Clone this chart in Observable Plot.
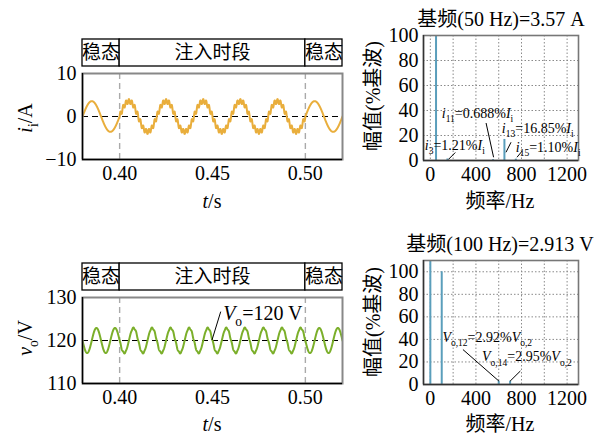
<!DOCTYPE html>
<html><head><meta charset="utf-8">
<script src="https://cdn.jsdelivr.net/npm/d3@7"></script>
<script src="https://cdn.jsdelivr.net/npm/@observablehq/plot@0.6"></script>
<style>
html,body{margin:0;padding:0;background:#fff;}
#root{position:relative;width:609px;height:435px;overflow:hidden;background:#fff;}
#root svg{position:absolute;left:0;top:0;}
</style></head>
<body><div id="root"></div>
<script>
// ---------- data ----------
const tDomain = [0.38, 0.52];
const tTicks = [0.40, 0.45, 0.50];
const segStart = [0.38, 0.40, 0.50];
const segEnd = [0.40, 0.50, 0.52];
const segLabel = ["稳态", "注入时段", "稳态"];
const injBounds = [0.40, 0.50];

// current i_i : fundamental + injected harmonics
const iFundFreq = 50, iFundAmp = 3.57;
const iHarmFreq = [150, 550, 650, 750];
const iHarmPct = [1.21, 0.688, 16.85, 1.10];
const iTicks = [-10, 0, 10];

// voltage v_o : DC + 100 Hz ripple + injected harmonics
const vDC = 120, vFundFreq = 100, vFundAmp = 2.913;
const vHarmFreq = [600, 700];
const vHarmPct = [2.92, 2.95];
const vTicks = [110, 120, 130];

// spectra
const iSpecFreq = [50, 150, 550, 650, 750];
const iSpecPct = [100, 1.21, 0.688, 16.85, 1.10];
const vSpecFreq = [0, 100, 600, 700];
const vSpecPct = [4119, 100, 2.92, 2.95];
const fTicks = [0, 400, 800, 1200];
const fGrid = [0, 200, 400, 600, 800, 1000, 1200];
const pTicks = [0, 20, 40, 60, 80, 100];

// ---------- build series ----------
const tStep = 0.00005;
const nPts = Math.round((tDomain[1] - tDomain[0]) / tStep);
const tArr = d3.range(nPts + 1).map(k => tDomain[0] + k * tStep);
const inj = t => t >= injBounds[0] && t <= injBounds[1];
const iSeries = tArr.map(t => {
  let v = iFundAmp * Math.sin(2 * Math.PI * iFundFreq * t);
  if (inj(t)) iHarmFreq.forEach((f, k) => v += iFundAmp * iHarmPct[k] / 100 * Math.sin(2 * Math.PI * f * t));
  return {t, v};
});
const vSeries = tArr.map(t => {
  let v = vDC - vFundAmp * Math.sin(2 * Math.PI * vFundFreq * t);
  if (inj(t)) vHarmFreq.forEach((f, k) => v += vFundAmp * vHarmPct[k] / 100 * Math.sin(2 * Math.PI * f * t));
  return {t, v};
});
const segs = segStart.map((s, k) => ({s, e: segEnd[k], label: segLabel[k]}));
const iSpec = iSpecFreq.map((f, k) => ({f, p: iSpecPct[k]}));
const vSpec = vSpecFreq.map((f, k) => ({f, p: vSpecPct[k]}));

// ---------- layout ----------
const W = 609, H = 435;
const FS = 20;
const SERIF = "'Liberation Serif', 'Noto Sans CJK SC', serif";
const CJK = "'Noto Sans CJK SC', sans-serif";
const baseStyle = {fontFamily: SERIF, fontSize: FS + "px", background: "transparent", overflow: "visible"};
const root = document.getElementById("root");
const ORANGE = "#E9AE3C", GREEN = "#7BAF2A", BLUE = "#5A9EBB";

function box(l, r, t, b) {
  return {width: W, height: H, marginLeft: l, marginRight: W - r, marginTop: t, marginBottom: H - b, style: baseStyle};
}

function rich(svg, x, y, parts, opt = {}) {
  const size = opt.size || 14;
  const t = d3.select(svg).append("text")
    .attr("x", x).attr("y", y)
    .attr("font-family", SERIF).attr("font-size", size)
    .attr("text-anchor", opt.anchor || "start").attr("fill", "black");
  if (opt.rotate) t.attr("transform", `rotate(-90 ${x} ${y})`);
  let shift = 0;
  for (const [s, kind] of parts) {
    const sp = t.append("tspan").text(s);
    const isSub = kind === "sub" || kind === "itsub";
    const target = isSub ? size * 0.3 : 0;
    if (target !== shift) { sp.attr("dy", target - shift); shift = target; }
    if (isSub) sp.attr("font-size", size * 0.68);
    if (kind === "it" || kind === "itsub") sp.attr("font-style", "italic");
  }
  return t;
}

function stateBar(top, bottom) {
  const p = Plot.plot({
    ...box(82, 342, top, bottom),
    x: {domain: tDomain, axis: null},
    marks: [
      Plot.rect(segs, {x1: "s", x2: "e", fill: "white", stroke: "black", strokeWidth: 1.3}),
      Plot.text(segs, {x: d => (d.s + d.e) / 2, text: "label", frameAnchor: "middle", fontFamily: CJK, fontSize: 19})
    ]
  });
  root.appendChild(p);
}

function timePanel(top, bottom, series, yDom, ticks, ref, color) {
  const p = Plot.plot({
    ...box(82, 342, top, bottom),
    x: {domain: tDomain},
    y: {domain: yDom},
    marks: [
      Plot.ruleX(injBounds, {stroke: "#aaa", strokeWidth: 1.4, strokeDasharray: "6,4"}),
      Plot.ruleY([ref], {stroke: "black", strokeWidth: 1.2, strokeDasharray: "6,4"}),
      Plot.line(series, {x: "t", y: "v", stroke: color, strokeWidth: 2, clip: true}),
      Plot.frame({stroke: "#888", strokeWidth: 2}),
      Plot.ruleX([tDomain[0]], {stroke: "black", strokeWidth: 1.4}),
      Plot.ruleY([yDom[0]], {stroke: "black", strokeWidth: 1.4}),
      Plot.axisX({ticks: tTicks, tickSize: 0, tickPadding: 6, tickFormat: d => d.toFixed(2), label: null, fontSize: FS}),
      Plot.axisY({ticks: ticks, tickSize: 0, tickPadding: 6, label: null, fontSize: FS})
    ]
  });
  root.appendChild(p);
  return p;
}

function specPanel(top, bottom, data, yDom, extraMarks) {
  const p = Plot.plot({
    ...box(423, 578, top, bottom),
    x: {domain: [-60, 1300]},
    y: {domain: yDom},
    marks: [
      Plot.gridX({ticks: fGrid, stroke: "#8a8a8a", strokeOpacity: 1, strokeDasharray: "1.5,2"}),
      Plot.gridY({ticks: pTicks, stroke: "#8a8a8a", strokeOpacity: 1, strokeDasharray: "1.5,2"}),
      Plot.ruleX(data, {x: "f", y1: 0, y2: "p", stroke: BLUE, strokeWidth: 2, clip: true}),
      ...extraMarks,
      Plot.frame({stroke: "#777", strokeWidth: 1.6}),
      Plot.ruleX([-60], {stroke: "#333", strokeWidth: 1.4}),
      Plot.ruleY([0], {stroke: "#333", strokeWidth: 1.4}),
      Plot.axisX({ticks: fTicks, tickSize: 0, tickPadding: 6, tickFormat: d => String(d), label: null, fontSize: FS}),
      Plot.axisY({ticks: pTicks, tickSize: 0, tickPadding: 5, tickFormat: d => String(d), label: null, fontSize: FS})
    ]
  });
  root.appendChild(p);
  return p;
}

// ---------- top row ----------
stateBar(39, 66);
const pI = timePanel(73, 159, iSeries, [-10, 10], iTicks, 0, ORANGE);
rich(pI, 212, 208, [["t", "it"], ["/s"]], {size: FS, anchor: "middle"});
rich(pI, 32, 118, [["i", "it"], ["i", "sub"], ["/A"]], {size: FS, anchor: "middle", rotate: true});

const iLeaders = [
  {x1: 158, y1: 0.8, x2: 219, y2: 6.4},
  {x1: 489, y1: 30, x2: 555, y2: 2.6},
  {x1: 664, y1: 6.6, x2: 708, y2: 14.6},
  {x1: 760, y1: 2.6, x2: 804, y2: 7.4}
];
const pIS = specPanel(35, 160, iSpec, [0, 100], [
  Plot.link(iLeaders, {x1: "x1", y1: "y1", x2: "x2", y2: "y2", stroke: "black", strokeWidth: 1})
]);
{
  const sx = pIS.scale("x"), sy = pIS.scale("y");
  const lab = (f, p, parts) => rich(pIS, sx.apply(f), sy.apply(p), parts, {size: 14});
  lab(-44, 8, [["i", "it"], ["3", "sub"], ["=1.21%"], ["I", "it"], ["i", "sub"]]);
  lab(105, 34, [["i", "it"], ["11", "sub"], ["=0.688%"], ["I", "it"], ["i", "sub"]]);
  lab(632, 21.5, [["i", "it"], ["13", "sub"], ["=16.85%"], ["I", "it"], ["i", "sub"]]);
  lab(754, 6.2, [["i", "it"], ["15", "sub"], ["=1.10%"], ["I", "it"], ["i", "sub"]]);
}
rich(pIS, 501, 26, [["基频(50 Hz)=3.57 A"]], {size: FS, anchor: "middle"});
rich(pIS, 500, 208, [["频率/Hz"]], {size: FS, anchor: "middle"});
rich(pIS, 380, 96, [["幅值(%基波)"]], {size: FS, anchor: "middle", rotate: true});

// ---------- bottom row ----------
stateBar(263, 290);
const vLead = [{x1: 0.45, y1: 120, x2: 0.4547, y2: 126.6}];
const pV = timePanel(297, 383, vSeries, [110, 130], vTicks, 120, GREEN);
{
  const sx = pV.scale("x"), sy = pV.scale("y");
  d3.select(pV).append("line")
    .attr("x1", sx.apply(vLead[0].x1)).attr("y1", sy.apply(vLead[0].y1))
    .attr("x2", sx.apply(vLead[0].x2)).attr("y2", sy.apply(vLead[0].y2))
    .attr("stroke", "black").attr("stroke-width", 1);
  rich(pV, sx.apply(0.456), sy.apply(124.7), [["V", "it"], ["o", "sub"], ["=120 V"]], {size: FS});
}
rich(pV, 212, 431, [["t", "it"], ["/s"]], {size: FS, anchor: "middle"});
rich(pV, 32, 338, [["v", "it"], ["o", "sub"], ["/V"]], {size: FS, anchor: "middle", rotate: true});

const vLeaders = [
  {x1: 286, y1: 31, x2: 602, y2: 3},
  {x1: 700, y1: 3, x2: 790, y2: 12}
];
const pVS = specPanel(260, 384, vSpec, [0, 110], [
  Plot.link(vLeaders, {x1: "x1", y1: "y1", x2: "x2", y2: "y2", stroke: "black", strokeWidth: 1})
]);
{
  const sx = pVS.scale("x"), sy = pVS.scale("y");
  const lab = (f, p, parts) => rich(pVS, sx.apply(f), sy.apply(p), parts, {size: 14});
  lab(110, 37, [["V", "it"], ["o,12", "sub"], ["=2.92%"], ["V", "it"], ["o,2", "sub"]]);
  lab(458, 20, [["V", "it"], ["o,14", "sub"], ["=2.95%"], ["V", "it"], ["o,2", "sub"]]);
}
rich(pVS, 500, 251, [["基频(100 Hz)=2.913 V"]], {size: FS, anchor: "middle"});
rich(pVS, 500, 431, [["频率/Hz"]], {size: FS, anchor: "middle"});
rich(pVS, 380, 322, [["幅值(%基波)"]], {size: FS, anchor: "middle", rotate: true});
</script></body></html>
